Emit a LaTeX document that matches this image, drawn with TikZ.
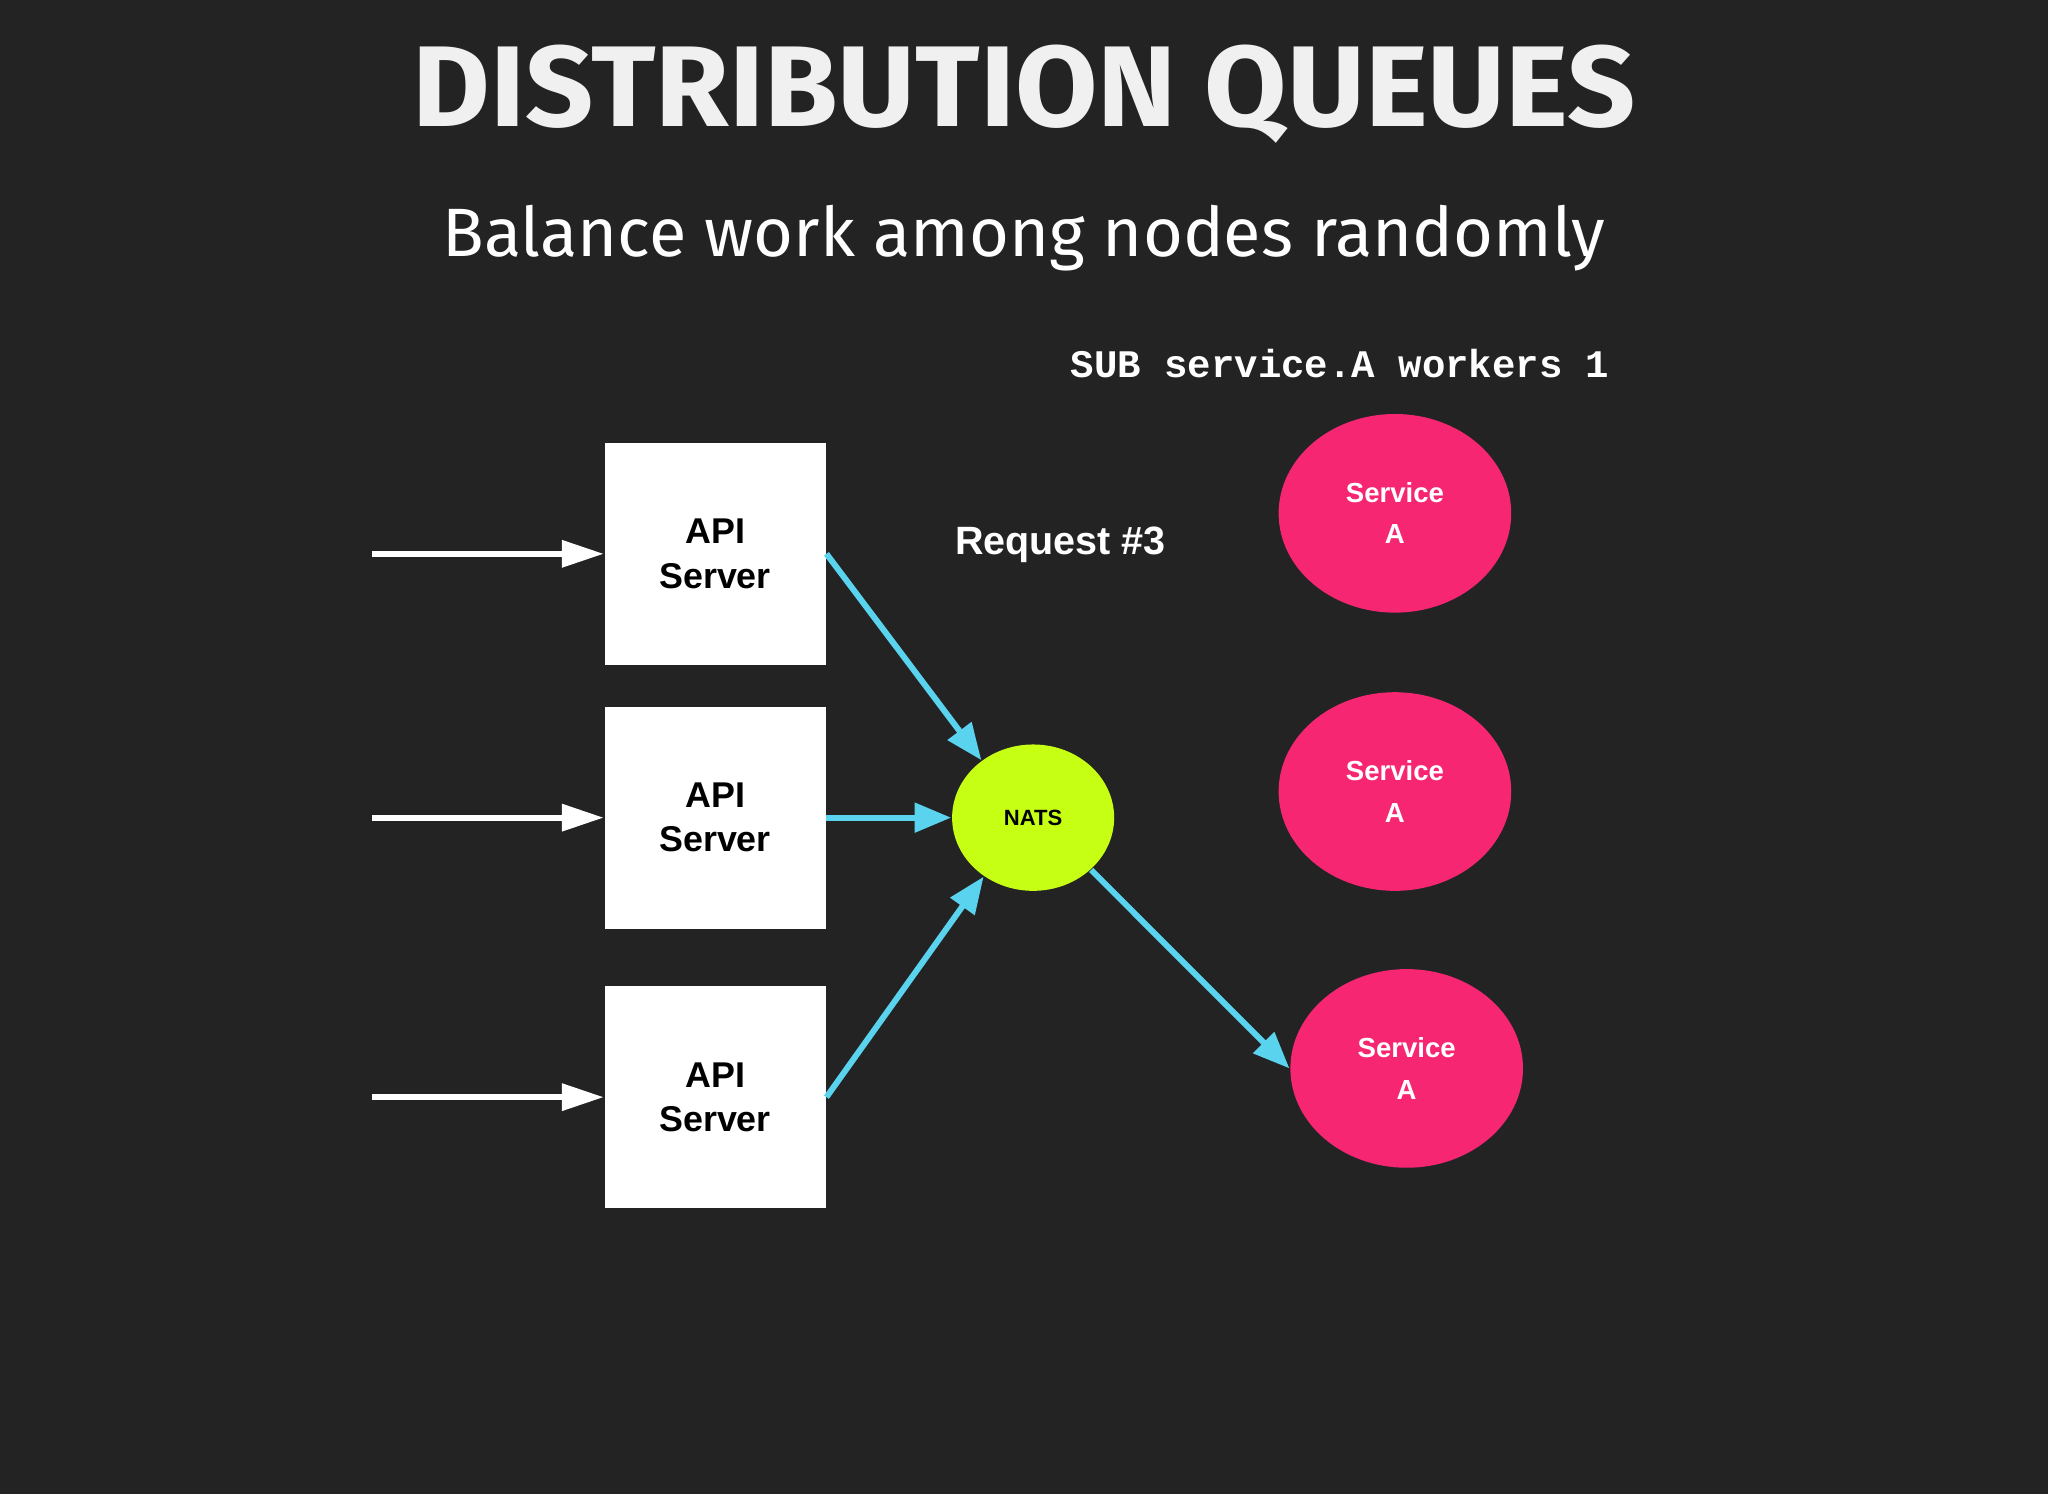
\documentclass[tikz,border=0pt]{standalone}
\usepackage{fontspec}
\setmainfont{Liberation Sans}
\newfontfamily\titlefont{Fira Sans}
\newfontfamily\monofont{Liberation Mono}
\usetikzlibrary{arrows.meta,shapes.geometric}
\definecolor{bg}{HTML}{232323}
\definecolor{svc}{HTML}{F72672}
\definecolor{nats}{HTML}{C6FF14}
\definecolor{cy}{HTML}{5AD3EE}
\begin{document}
\begin{tikzpicture}[x=0.01cm,y=-0.01cm,
  box/.style={fill=white,minimum width=1.69cm,minimum height=1.70cm,inner sep=0pt,align=center,font=\bfseries\fontsize{7.8}{9.6}\selectfont},
  svcn/.style={ellipse,fill=svc,minimum width=1.78cm,minimum height=1.52cm,inner sep=0pt,align=center,text=white,font=\bfseries\fontsize{6}{9}\selectfont},
  warr/.style={draw=white,line width=1.3pt,-{Triangle[length=0.32cm,width=0.2cm]}},
  carr/.style={draw=cy,line width=1.3pt,-{Triangle[length=0.28cm,width=0.22cm]}}]
\useasboundingbox[fill=bg] (0,0) rectangle (1568,1144);
\node[text=white!94!black,font=\titlefont\bfseries\fontsize{25}{30}\selectfont,xscale=1.04] (title) at (784,72) {DISTRIBUTION QUEUES};
\node[text=white,font=\titlefont\fontsize{14.9}{18}\selectfont] (sub) at (784,182) {Balance work among nodes randomly};
\node[text=white,font=\monofont\bfseries\fontsize{8.5}{10}\selectfont] (cmd) at (1026,278) {SUB service.A workers 1};
\node[text=white,font=\bfseries\fontsize{8.6}{10}\selectfont] (req) at (812,417) {Request \#3};
\node[box] (b1) at (547.5,424) {API\\Server};
\node[box] (b2) at (547.5,626) {API\\Server};
\node[box] (b3) at (547.5,840) {API\\Server};
\coordinate (i1) at (285,424);
\coordinate (i2) at (285,626);
\coordinate (i3) at (285,840);
\node[ellipse,fill=nats,minimum width=1.24cm,minimum height=1.12cm,inner sep=0pt,font=\bfseries\fontsize{4.8}{6}\selectfont] (nats) at (791,626) {NATS};
\node[svcn] (s1) at (1068,393) {Service\\A};
\node[svcn] (s2) at (1068,606) {Service\\A};
\node[svcn] (s3) at (1077,818) {Service\\A};
\draw[warr] (i1) -- (b1.west);
\draw[warr] (i2) -- (b2.west);
\draw[warr] (i3) -- (b3.west);
\draw[carr] (b1.east) -- (nats.132);
\draw[carr] (b2.east) -- (nats.west);
\draw[carr] (b3.east) -- (nats.230);
\draw[carr] (nats.-42) -- (s3.west);
\end{tikzpicture}
\end{document}
